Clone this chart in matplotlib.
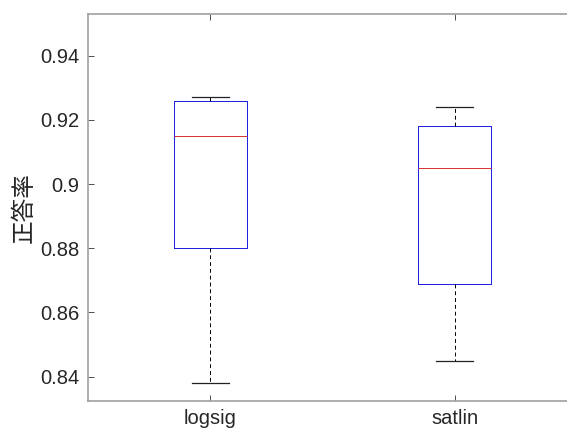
import matplotlib
matplotlib.use("Agg")
import matplotlib.pyplot as plt

plt.rcParams['font.family'] = ['Liberation Sans', 'Noto Sans CJK JP', 'DejaVu Sans']

# box statistics
labels = ['logsig', 'satlin']
whislo = [0.838, 0.845]
q1 = [0.880, 0.869]
med = [0.915, 0.905]
q3 = [0.926, 0.918]
whishi = [0.927, 0.924]
yticks = [0.84, 0.86, 0.88, 0.90, 0.92, 0.94]
ytick_labels = ['0.84', '0.86', '0.88', '0.9', '0.92', '0.94']

stats = []
for i in range(len(labels)):
    stats.append(dict(label=labels[i], whislo=whislo[i], q1=q1[i], med=med[i],
                      q3=q3[i], whishi=whishi[i], fliers=[]))

fig = plt.figure(figsize=(5.67, 4.32), dpi=100)
# axes runs past the right edge, like the cropped original
ax = fig.add_axes([88 / 567, 1 - 401 / 432, (577 - 88) / 567, (401 - 14) / 432])

ax.bxp(stats, positions=[1, 2], widths=0.3, showfliers=False,
       boxprops=dict(color='#1a1ae0', linewidth=0.7),
       medianprops=dict(color='#d83030', linewidth=0.7),
       whiskerprops=dict(color='black', linewidth=0.7, linestyle=(0, (4, 3))),
       capprops=dict(color='#222222', linewidth=0.9),
       capwidths=0.15)

ax.set_xlim(0.5, 2.5)
ax.set_ylim(0.8324, 0.953)
ax.set_yticks(yticks)
ax.set_yticklabels(ytick_labels)
ax.set_xticks([1, 2])
ax.set_xticklabels(labels)
ax.tick_params(direction='in', length=4, width=0.6, color='#333333',
               labelsize=14.5, labelcolor='#262626', top=True, right=True, pad=6)
for s in ax.spines.values():
    s.set_color('#a0a0a0')
    s.set_linewidth(1.2)
ax.spines['right'].set_visible(False)

ax.set_ylabel('正答率', family=['Noto Sans CJK JP'], fontsize=17,
              color='#262626', labelpad=3)

fig.savefig('out.png', dpi=100)
